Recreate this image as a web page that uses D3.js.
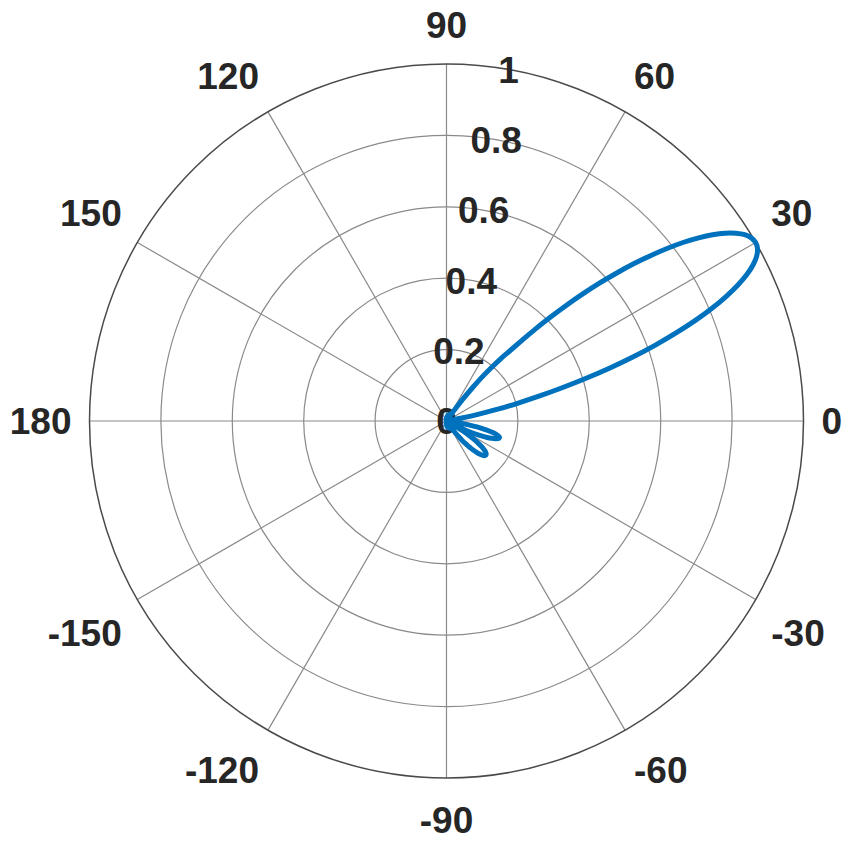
<!DOCTYPE html>
<html><head><meta charset="utf-8">
<script src="https://cdn.jsdelivr.net/npm/d3@7"></script>
<style>html,body{margin:0;padding:0;background:#fff;}svg{display:block;}</style>
</head><body>
<script>
// ---- data ----
const thetaDeg = [-180,-150,-120,
-90,-89,-88,-87,-86,-85,-84,-83,-82,-81,-80,-79,-78,-77,-76,-75,-74,-73,-72,-71,-70,-69,-68,-67,-66,-65,-64,-63,-62,-61,-60,-59,-58,-57,
-56,-55,-54,-53,-52,-51,-50,-49,-48,-47,-46,-45,-44,-43,-42,-41,-40,-39,-38,-37,-36,-35,-34,-33,-32,-31,-30,-29,-28,-27,-26,-25,-24,-23,-22,-21,-20,-19,-18,-17,-16,-15,-14,-13,-12,-11,-10,-9,-8,
-7,-6,-5,-4,-3,-2,-1,0,1,2,3,4,5,6,7,8,9,10,
11,12,13,14,15,16,17,18,19,20,21,22,23,24,25,26,27,28,29,30,31,32,33,34,35,36,37,38,39,40,41,42,43,44,45,46,47,48,49,50,51,52,53,54,55,56,
57,58,59,60,61,62,63,64,65,66,67,68,69,70,71,72,73,74,75,76,77,78,79,80,81,82,83,84,85,86,87,88,89,90,
120,150,180];
const rho = [0,0,0,
0.010,0.011,0.012,0.013,0.014,0.015,0.016,0.017,0.017,0.018,0.018,0.018,0.017,0.016,0.014,0.012,0.009,0.006,0.003,0.002,0.006,0.010,0.014,0.017,0.020,0.022,0.024,0.024,0.023,0.021,0.018,0.014,0.009,0.004,
0.005,0.018,0.031,0.044,0.057,0.069,0.082,0.093,0.104,0.114,0.123,0.131,0.137,0.142,0.145,0.146,0.145,0.142,0.137,0.130,0.121,0.109,0.096,0.081,0.065,0.047,0.028,0.009,0.012,0.033,0.053,0.073,0.092,0.109,0.123,0.135,0.145,0.151,0.155,0.155,0.151,0.144,0.134,0.121,0.105,0.087,0.066,0.044,0.021,
0.003,0.008,0.015,0.021,0.026,0.029,0.031,0.031,0.029,0.026,0.022,0.017,0.012,0.007,0.004,0.003,0.005,0.012,
0.040,0.090,0.150,0.205,0.268,0.335,0.409,0.483,0.555,0.624,0.690,0.752,0.808,0.857,0.900,0.936,0.964,0.984,0.996,1.000,0.996,0.985,0.966,0.941,0.910,0.873,0.832,0.786,0.737,0.686,0.632,0.578,0.522,0.466,0.411,0.358,0.305,0.262,0.230,0.195,0.160,0.120,0.080,0.045,0.018,0.004,
0.008,0.012,0.016,0.019,0.021,0.022,0.021,0.019,0.016,0.012,0.007,0.003,0.004,0.008,0.011,0.014,0.016,0.017,0.018,0.018,0.017,0.016,0.015,0.014,0.013,0.012,0.011,0.010,0.010,0.009,0.009,0.009,0.009,0.009,
0,0,0];
const thetaTicks = [0,30,60,90,120,150,180,210,240,270,300,330];
const thetaTickLabels = ["0","30","60","90","120","150","180","-150","-120","-90","-60","-30"];
const rTicks = [0,0.2,0.4,0.6,0.8,1];
const rTickLabels = ["0","0.2","0.4","0.6","0.8","1"];

// ---- layout ----
const W = 851, H = 843;
const cx = 446.5, cy = 421, R = 357;
const fs = 37;
const rAxisAngle = 80;

const svg = d3.select("body").append("svg").attr("width", W).attr("height", H);
const g = svg.append("g").attr("transform", `translate(${cx},${cy})`);
const r = d3.scaleLinear().domain([0, 1]).range([0, R]);
const rad = d => d * Math.PI / 180;

// rings
g.selectAll("circle.ring").data(rTicks.filter(v => v > 0 && v < 1)).enter()
  .append("circle").attr("class", "ring")
  .attr("r", d => r(d)).attr("fill", "none")
  .attr("stroke", "#8a8a8a").attr("stroke-width", 1.2);

// spokes
g.selectAll("line.spoke").data(thetaTicks).enter()
  .append("line").attr("class", "spoke")
  .attr("x1", 0).attr("y1", 0)
  .attr("x2", d => r(1) * Math.cos(rad(d)))
  .attr("y2", d => -r(1) * Math.sin(rad(d)))
  .attr("stroke", "#8a8a8a").attr("stroke-width", 1.2);

// outer circle
g.append("circle").attr("r", r(1)).attr("fill", "none")
  .attr("stroke", "#4a4a4a").attr("stroke-width", 1.5);

// theta labels (aligned like corner-anchored text boxes outside the circle)
const Rl = 375;
thetaTicks.forEach((t, i) => {
  const txt = g.append("text")
    .attr("font-family", "'Liberation Sans', Arial, Helvetica, sans-serif")
    .attr("font-weight", "bold").attr("font-size", fs)
    .attr("fill", "#262626").attr("text-anchor", "middle")
    .text(thetaTickLabels[i]);
  const bb = txt.node().getBBox();
  const hw = bb.width / 2;
  const c = Math.cos(rad(t)), s = Math.sin(rad(t));
  let x = Rl * c, y = -Rl * s;
  if (Math.abs(c) > 0.01) x += Math.sign(c) * hw;
  if (s > 0.01) y -= 21;
  else if (s < -0.01) y += 24;
  txt.attr("x", x).attr("y", y + 0.358 * fs);
});

// r labels
g.selectAll("text.rlab").data(rTicks).enter()
  .append("text").attr("class", "rlab")
  .attr("font-family", "'Liberation Sans', Arial, Helvetica, sans-serif")
  .attr("font-weight", "bold").attr("font-size", fs)
  .attr("fill", "#262626").attr("text-anchor", "middle")
  .attr("x", d => r(d) * Math.cos(rad(rAxisAngle)))
  .attr("y", d => -r(d) * Math.sin(rad(rAxisAngle)) + 0.358 * fs)
  .text((d, i) => rTickLabels[i]);

// pattern line
const pts = thetaDeg.map((t, i) => ({t: t, v: rho[i]}));
const line = d3.lineRadial()
  .angle(d => Math.PI / 2 - rad(d.t))
  .radius(d => r(d.v))
  .curve(d3.curveCatmullRom);
g.append("path").datum(pts)
  .attr("d", line)
  .attr("fill", "none").attr("stroke", "#0072BD")
  .attr("stroke-width", 5).attr("stroke-linejoin", "round").attr("stroke-linecap", "round");
</script>
</body></html>
